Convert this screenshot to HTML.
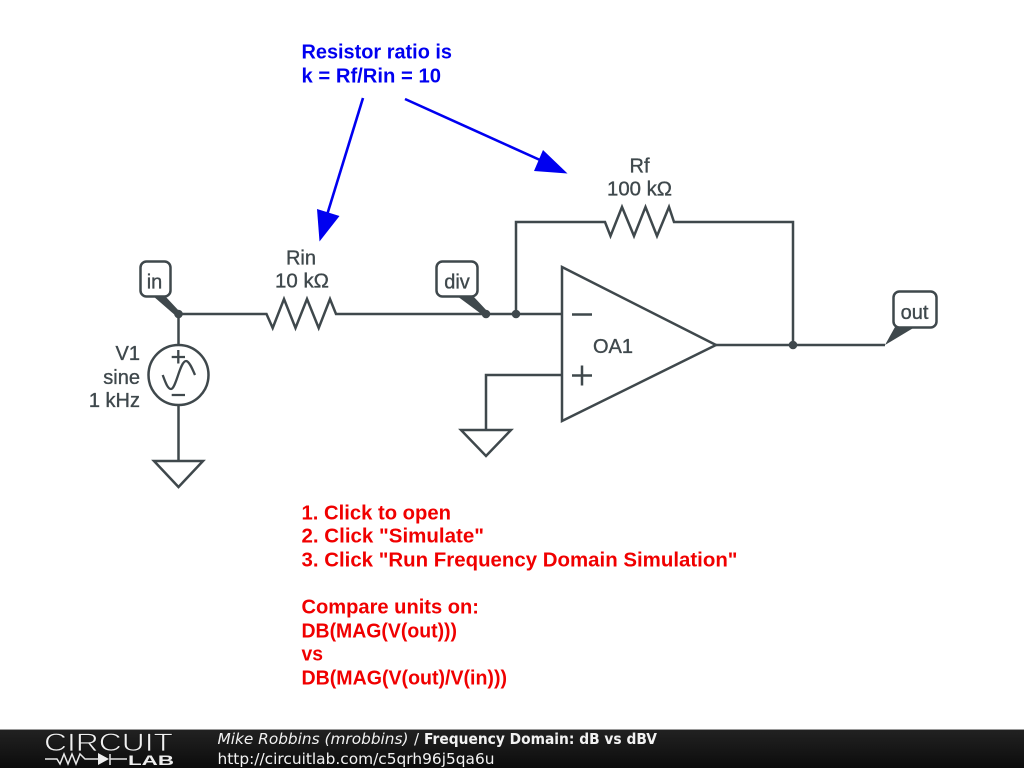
<!DOCTYPE html>
<html>
<head>
<meta charset="utf-8">
<style>
html,body{margin:0;padding:0;background:#fff;}
svg{display:block;}
.g{font-family:"Liberation Sans",sans-serif;font-size:20px;fill:#3f484c;stroke:#3f484c;stroke-width:.35px;}
.b{font-family:"Liberation Sans",sans-serif;font-size:20px;font-weight:bold;fill:#0000f0;}
.r{font-family:"Liberation Sans",sans-serif;font-size:20px;font-weight:bold;fill:#f00000;}
.f{font-family:"DejaVu Sans",sans-serif;font-size:15px;fill:#f2f2f2;}
</style>
</head>
<body>
<svg width="1024" height="768" viewBox="0 0 1024 768" xmlns="http://www.w3.org/2000/svg">
<defs>
<linearGradient id="bar" x1="0" y1="0" x2="0" y2="1">
<stop offset="0" stop-color="#222"/><stop offset="1" stop-color="#0c0c0c"/>
</linearGradient>
</defs>
<rect width="1024" height="768" fill="#fff"/>

<g fill="none" stroke="#3f484c" stroke-width="2.5" stroke-linejoin="miter">
<path d="M178.500 314H266.500L272.700 328L284 299L295.500 328L307 299L318.700 328L330 299L336 314H562"/>
<path d="M516 314V222H605L610.500 236L622 207L634 236L645.500 207L657 236L669 207L674 222H793V345"/>
<path d="M562 267L716 345L562 421Z"/>
<path d="M716 345H885"/>
<path d="M562 375H486V430"/>
<path d="M461 430H511L486 456Z"/>
<path d="M178.500 314V345M178.500 405V461"/>
<path d="M154 461H203L178.500 487Z"/>
<circle cx="178.500" cy="375" r="30"/>
<path d="M572 314.500H592M572 375.500H592M582 365.500V385.500"/>
</g>
<g fill="none" stroke="#3f484c" stroke-width="2.300">
<path d="M171.700 357H185M178.300 350V363.500M171.700 395H185"/>
<path d="M162.700 375C166 384 168 389 171 389C176 389 180 361 186 361C189 361 192 368 195 375"/>
</g>

<g fill="#3f484c">
<circle cx="178.500" cy="314" r="4.300"/>
<circle cx="486" cy="314" r="4.300"/>
<circle cx="516" cy="314" r="4.300"/>
<circle cx="793" cy="345" r="4.300"/>
<path d="M153 296L165 296L180 312L176 316Z"/>
<path d="M457 296L473 296L488 312L484 316Z"/>
<path d="M895 327L915 327L885 345Z"/>
</g>

<g fill="#fff" stroke="#3f484c" stroke-width="2.500">
<rect x="140.500" y="261.500" width="30" height="35" rx="6"/>
<rect x="436.500" y="261.500" width="41" height="35" rx="6"/>
<rect x="893.500" y="291.500" width="43" height="36" rx="6"/>
</g>

<g class="g" text-anchor="middle">
<text x="154.500" y="288.500">in</text>
<text x="457" y="288.500">div</text>
<text x="914.500" y="319">out</text>
<text x="301" y="264.500">Rin</text>
<text x="302" y="287.500" textLength="54" lengthAdjust="spacingAndGlyphs">10 kΩ</text>
<text x="639.500" y="172.500">Rf</text>
<text x="639.500" y="195.500" textLength="65" lengthAdjust="spacingAndGlyphs">100 kΩ</text>
<text x="613" y="353">OA1</text>
</g>
<g class="g" text-anchor="end">
<text x="140" y="360">V1</text>
<text x="140" y="384">sine</text>
<text x="140" y="407">1 kHz</text>
</g>

<g class="b">
<text x="301.500" y="58.500" textLength="150.500" lengthAdjust="spacingAndGlyphs">Resistor ratio is</text>
<text x="301.500" y="82.500" textLength="139.500" lengthAdjust="spacingAndGlyphs">k = Rf/Rin = 10</text>
</g>
<g stroke="#0000f0" stroke-width="2.600" fill="none">
<path d="M363 98L327 215"/>
<path d="M405 99L540 160"/>
</g>
<g fill="#0000f0">
<path d="M317 209L339.500 216L319.500 241.500Z"/>
<path d="M543 150L534 171L567.500 173.500Z"/>
</g>

<g class="r">
<text x="301.500" y="519.500" textLength="149.500" lengthAdjust="spacingAndGlyphs">1. Click to open</text>
<text x="301.500" y="542.500" textLength="182.500" lengthAdjust="spacingAndGlyphs">2. Click "Simulate"</text>
<text x="301.500" y="566.500" textLength="436" lengthAdjust="spacingAndGlyphs">3. Click "Run Frequency Domain Simulation"</text>
<text x="301.500" y="613.500" textLength="177.500" lengthAdjust="spacingAndGlyphs">Compare units on:</text>
<text x="301.500" y="637.500" textLength="155.500" lengthAdjust="spacingAndGlyphs">DB(MAG(V(out)))</text>
<text x="301.500" y="660.500" textLength="21.500" lengthAdjust="spacingAndGlyphs">vs</text>
<text x="301.500" y="684.500" textLength="205.500" lengthAdjust="spacingAndGlyphs">DB(MAG(V(out)/V(in)))</text>
</g>

<rect x="0" y="729" width="1024" height="39" fill="url(#bar)"/>
<rect x="0" y="729" width="1024" height="1" fill="#9a9a9a"/>

<text x="44" y="751" font-family="'Liberation Sans',sans-serif" font-size="25" textLength="129" lengthAdjust="spacingAndGlyphs" fill="#f0f0f0" stroke="#161616" stroke-width=".7">CIRCUIT</text>
<g fill="none" stroke="#e8e8e8" stroke-width="1.500">
<path d="M45 759H57L60 764L64 754L68 764L72 754L76 764L80 754L85 759H98M110 759H127M110 754V765"/>
</g>
<path d="M98 753V765L109 759Z" fill="#eee"/>
<text x="128" y="765" font-family="'Liberation Sans',sans-serif" font-size="14" font-weight="bold" textLength="46" lengthAdjust="spacingAndGlyphs" fill="#eee">LAB</text>

<text class="f" x="217.500" y="744" font-style="italic" textLength="191" lengthAdjust="spacingAndGlyphs">Mike Robbins (mrobbins)</text>
<text class="f" x="414" y="744">/</text>
<text class="f" x="424" y="744" font-weight="bold" textLength="233" lengthAdjust="spacingAndGlyphs">Frequency Domain: dB vs dBV</text>
<text class="f" x="217.500" y="764" textLength="277" lengthAdjust="spacingAndGlyphs">http://circuitlab.com/c5qrh96j5qa6u</text>
</svg>
</body>
</html>
